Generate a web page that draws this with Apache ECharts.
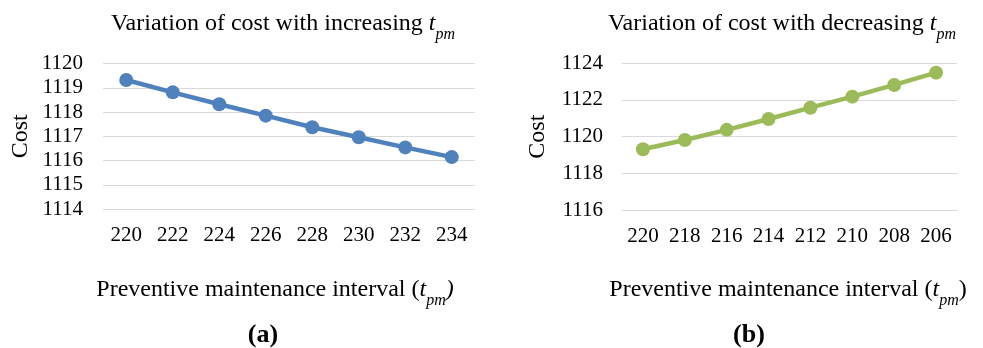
<!DOCTYPE html>
<html>
<head>
<meta charset="utf-8">
<script src="https://cdn.jsdelivr.net/npm/echarts@6/dist/echarts.min.js"></script>
<style>
html,body{margin:0;padding:0;background:#fff;}
#chart{width:983px;height:348px;}
</style>
</head>
<body>
<div id="chart"></div>
<script>
const catsA = ['220','222','224','226','228','230','232','234'];
const costA = [1119.32, 1118.81, 1118.32, 1117.85, 1117.37, 1116.96, 1116.54, 1116.14];
const catsB = ['220','218','216','214','212','210','208','206'];
const costB = [1119.31, 1119.82, 1120.37, 1120.96, 1121.58, 1122.18, 1122.82, 1123.49];
const titleA = 'Variation of cost with increasing ';
const titleB = 'Variation of cost with decreasing ';
const xTitle = 'Preventive maintenance interval (';
const yTitle = 'Cost';

const FONT = 'Liberation Serif';
const rich = {
  n: {fontFamily: FONT, fontSize: 24, color: '#000', lineHeight: 30},
  t: {fontFamily: FONT, fontSize: 24, fontStyle: 'italic', color: '#000', lineHeight: 30},
  s: {fontFamily: FONT, fontSize: 16, fontStyle: 'italic', color: '#000', lineHeight: 16, verticalAlign: 'bottom', padding: [0,0,-4,0]},
  b: {fontFamily: FONT, fontSize: 26, fontWeight: 'bold', color: '#000', lineHeight: 28}
};
function mkTitle(text, x, y) {
  return {text: text, left: x, top: y, textAlign: 'center', padding: 0, itemGap: 0,
    textStyle: {rich: rich, fontFamily: FONT, fontSize: 24, fontWeight: 'normal', color: '#000'}};
}
const axisLabelStyle = {fontFamily: FONT, fontSize: 21, color: '#000', formatter: function (v) { return String(v); }};
const chart = echarts.init(document.getElementById('chart'));
chart.setOption({
  animation: false,
  backgroundColor: '#fff',
  title: [
    mkTitle('{n|' + titleA + '}{t|t}{s|pm}', 283, 9),
    mkTitle('{n|' + titleB + '}{t|t}{s|pm}', 782, 9),
    mkTitle('{n|' + xTitle + '}{t|t}{s|pm}{t|)}', 275, 275),
    mkTitle('{n|' + xTitle + '}{t|t}{s|pm}{n|)}', 788, 275),
    mkTitle('{b|(a)}', 263, 321),
    mkTitle('{b|(b)}', 749, 321)
  ],
  grid: [
    {left: 103, right: 508, top: 63.5, bottom: 139},
    {left: 622, right: 26, top: 63.3, bottom: 138}
  ],
  xAxis: [
    {type: 'category', gridIndex: 0, data: catsA, boundaryGap: true,
      axisLine: {show: false}, axisTick: {show: false},
      axisLabel: Object.assign({margin: 16}, axisLabelStyle)},
    {type: 'category', gridIndex: 1, data: catsB, boundaryGap: true,
      axisLine: {show: false}, axisTick: {show: false},
      axisLabel: Object.assign({margin: 16}, axisLabelStyle)}
  ],
  yAxis: [
    {type: 'value', gridIndex: 0, min: 1114, max: 1120, interval: 1,
      name: yTitle, nameLocation: 'middle', nameGap: 70, nameRotate: 90,
      nameTextStyle: {fontFamily: FONT, fontSize: 24, color: '#000'},
      axisLine: {show: false}, axisTick: {show: false},
      axisLabel: Object.assign({margin: 20}, axisLabelStyle),
      splitLine: {lineStyle: {color: '#d9d9d9', width: 1}}},
    {type: 'value', gridIndex: 1, min: 1116, max: 1124, interval: 2,
      name: yTitle, nameLocation: 'middle', nameGap: 72, nameRotate: 90,
      nameTextStyle: {fontFamily: FONT, fontSize: 24, color: '#000'},
      axisLine: {show: false}, axisTick: {show: false},
      axisLabel: Object.assign({margin: 19}, axisLabelStyle),
      splitLine: {lineStyle: {color: '#d9d9d9', width: 1}}}
  ],
  series: [
    {type: 'line', xAxisIndex: 0, yAxisIndex: 0, data: costA,
      symbol: 'circle', symbolSize: 14,
      lineStyle: {color: '#4F81BD', width: 4.5},
      itemStyle: {color: '#4F81BD'}},
    {type: 'line', xAxisIndex: 1, yAxisIndex: 1, data: costB,
      symbol: 'circle', symbolSize: 14,
      lineStyle: {color: '#9BBB59', width: 4.5},
      itemStyle: {color: '#9BBB59'}}
  ]
});
</script>
</body>
</html>
